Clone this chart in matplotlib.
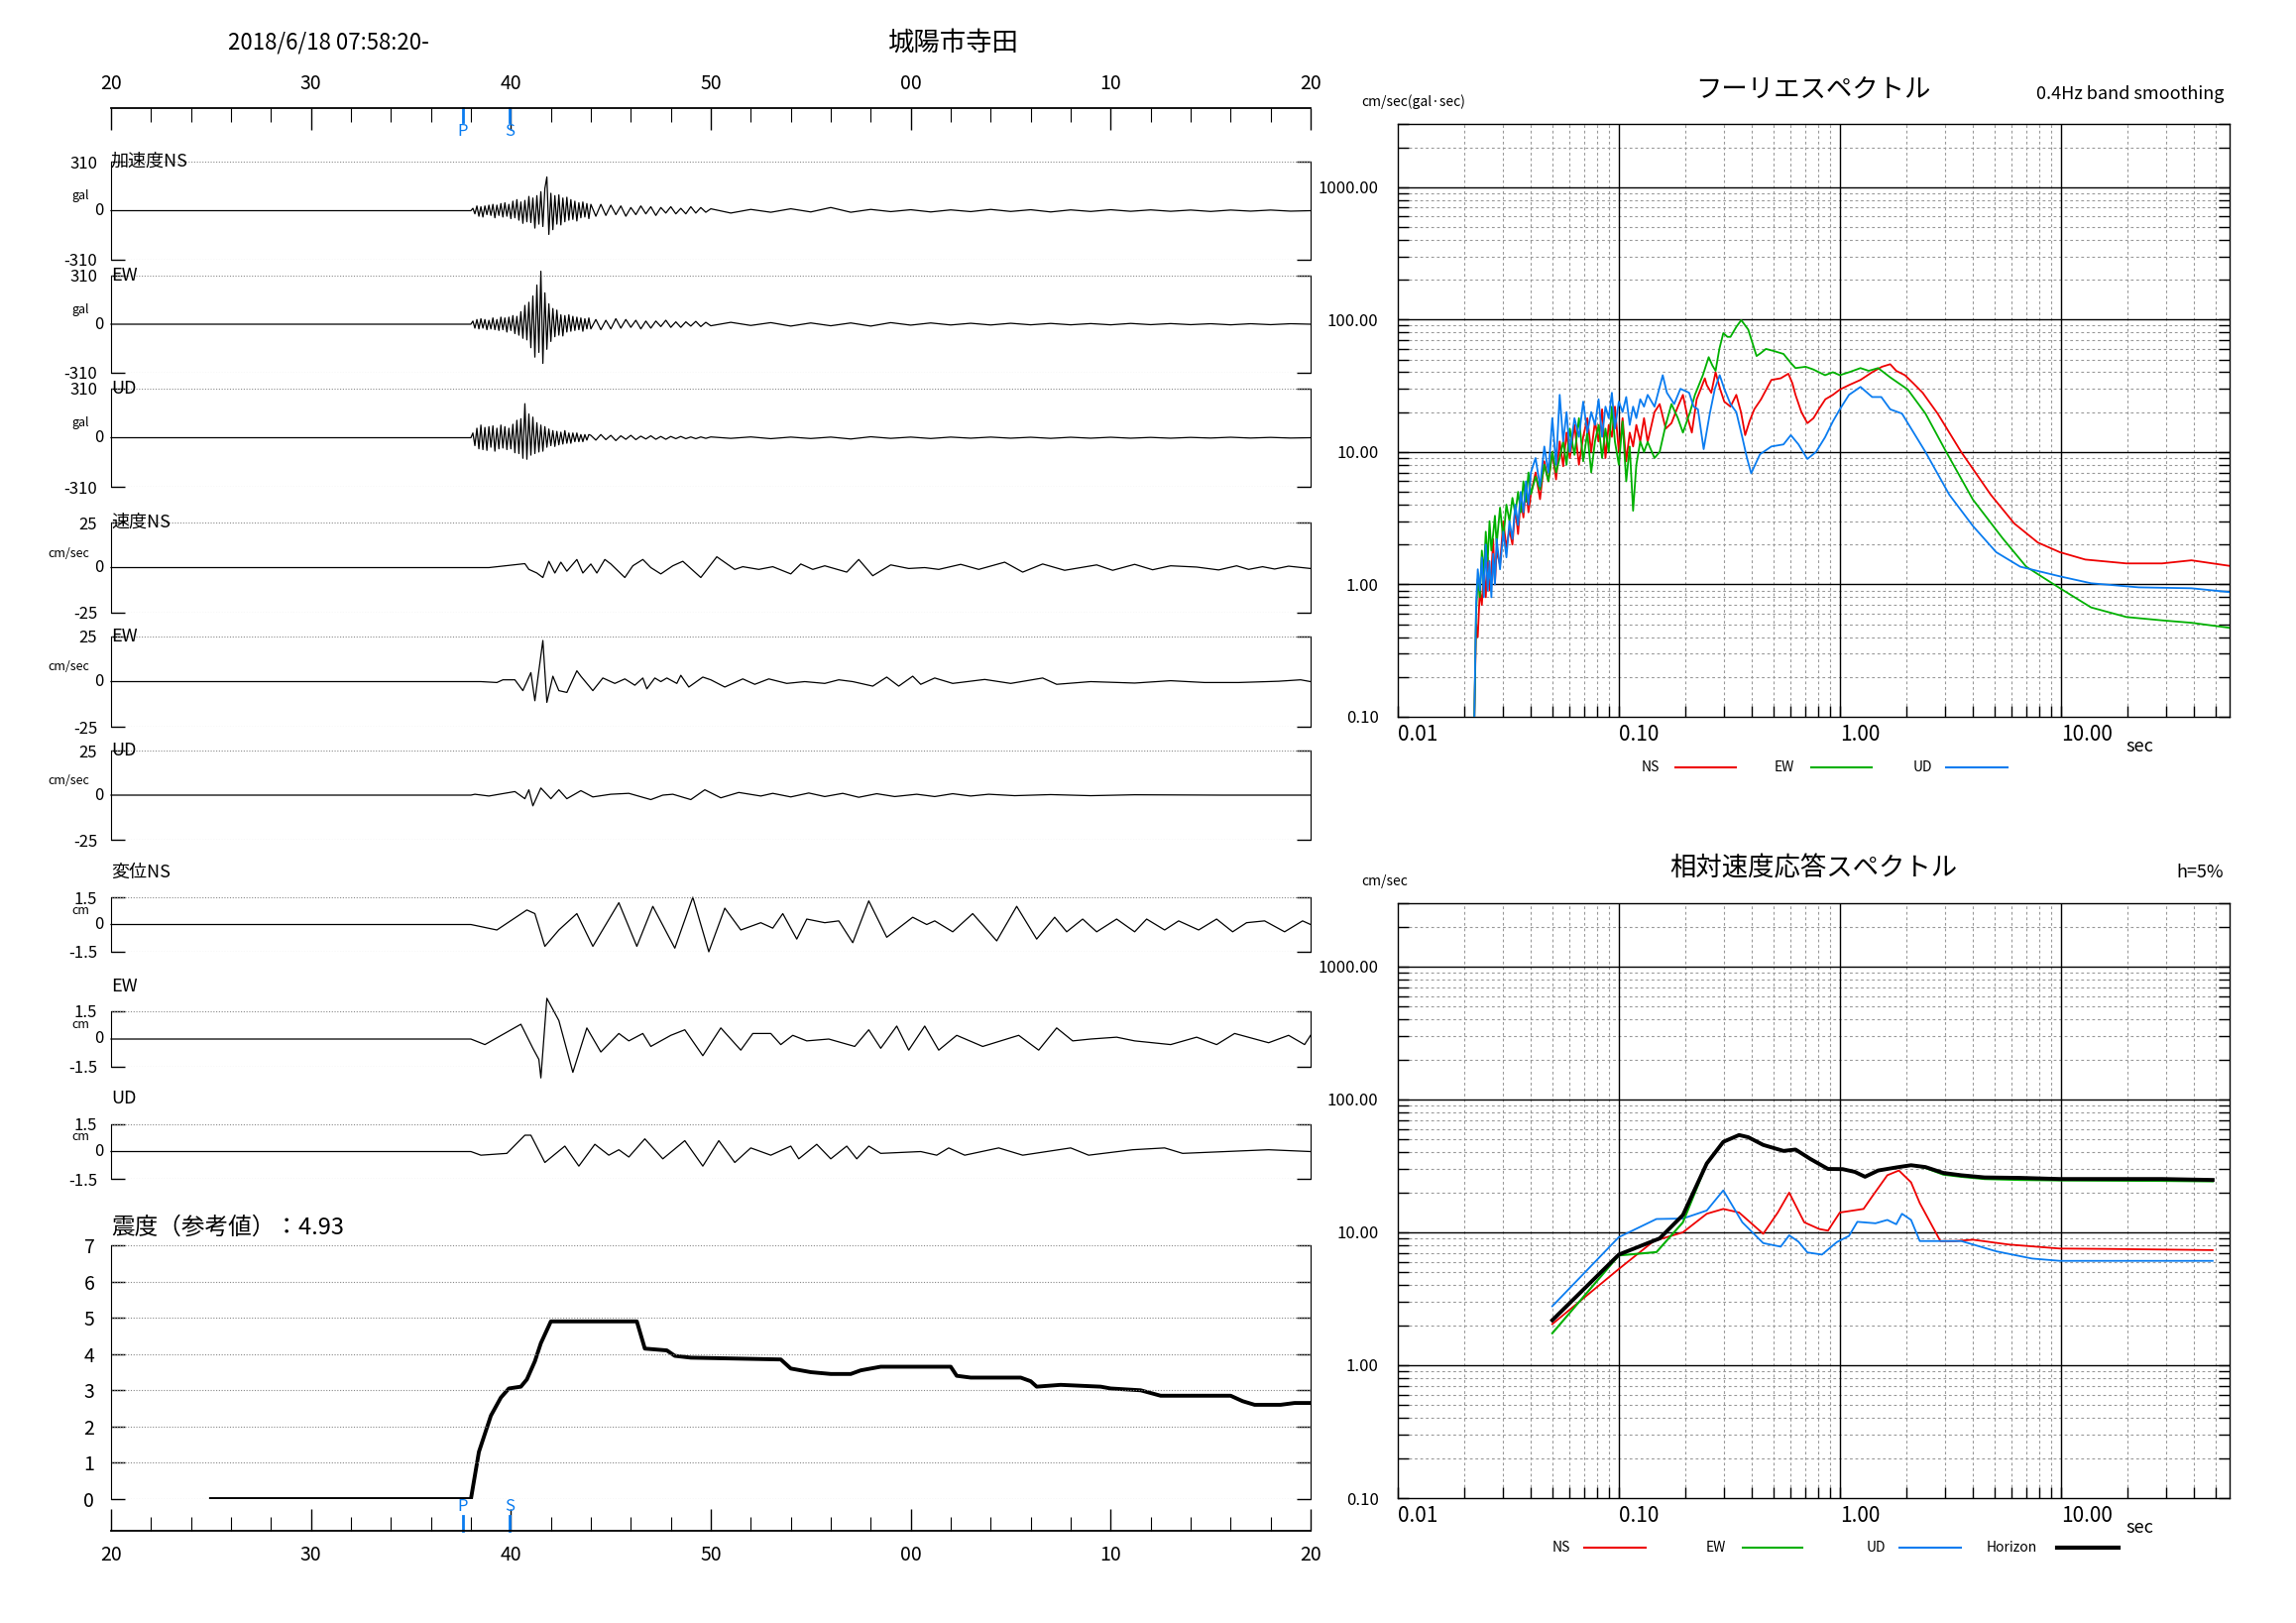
import numpy as np
import matplotlib
matplotlib.use("Agg")
import matplotlib.pyplot as plt
from matplotlib.lines import Line2D
from matplotlib.ticker import LogLocator, NullFormatter, FixedLocator

plt.rcParams['font.family'] = ['Noto Sans CJK JP', 'DejaVu Sans']

# ---------------- data ----------------
time_ticks = [20, 30, 40, 50, 60, 70, 80]
time_labels = ["20", "30", "40", "50", "00", "10", "20"]
p_time, s_time = 37.6, 39.95

acc_ns_early = [0, 15, -20, 30, -35, 25, -40, 30, -25, 35,
                -30, 40, -45, 35, -30, 45, -40, 50, -35, 40,
                -50, 60, -45, 70, -60, 55, -80, 65, -70, 90,
                -75, 80, -110, 95, -85, 120, -100, 140, 213, -150,
                110, -120, 95, -85, 100, -90, 80, -70, 85, -60,
                70, -55, 60, -65, 50, -45, 55, -40, 45, -50, 40]
acc_ns_mid = [-35, 40, -30, 35, -25, 30, -35, 20, -25, 30, -20, 25, -30, 20, -15, 25, -20, 15, -20, 25, -15, 20, -10]
acc_ns_late = [12, -15, 8, -10, 12, -8, 20, -10, 8, -6, 6, -8, 5, -6, 8, -5, 6, -8, 5, -5,
               6, -4, 5, -4, 4, -5, 4, -3, 4, -3, 0]
acc_ew_early = [0, 20, -25, 30, -30, 35, -25, 30, -35, 25,
                -30, 40, -35, 30, -40, 45, -35, 40, -50, 45,
                -40, 55, -60, 50, -70, 80, -90, 120, -100, 140,
                -150, 180, -210, 250, -180, 338, -250, 200, -160, 130,
                -110, 100, -80, 90, -70, 60, -75, 55, -50, 60,
                -45, 50, -40, 45, -35, 40, -45, 35, -30, 40, -30]
acc_ew_mid = [30, -35, 25, -30, 35, -25, 30, -20, 25, -30, 20, -25, 20, -15, 25, -20, 15, -20, 15, -12, 18, -15, 12]
acc_ew_late = [-10, 12, -8, 10, -12, 8, -10, 8, -12, 10, -6, 8, -5, 6, -5, 6, -4, 5, -4, 4,
               -4, 5, -3, 4, -3, 3, -4, 3, -3, 3, 0]
acc_ud_early = [0, 30, -50, 60, -70, 80, -75, 65, -80, 70,
                -60, 75, -85, 60, -70, 80, -65, 70, -75, 60,
                -70, 85, -95, 110, -100, 120, -130, 215, -136, 150,
                -110, 130, -100, 95, -90, 80, -85, 70, -60, 55,
                -50, 45, -55, 40, -45, 35, -40, 45, -35, 30,
                -35, 30, -25, 30, -25, 20, -25, 20, -15, 20, 15]
acc_ud_mid = [-15, 20, -12, 15, -18, 12, -10, 15, -12, 10, -8, 12, -10, 8, -10, 8, -6, 8, -6, 5, -6, 5, -4]
acc_ud_late = [5, -4, 5, -6, 4, -5, 4, -8, 6, -4, 4, -5, 4, -3, 4, -3, 3, -4, 3, -3,
               3, -3, 2, -3, 2, -2, 3, -2, 2, -2, 0]

vel_ns_t = [20, 38.9, 40.7, 40.9, 41.3, 41.6, 41.9, 42.2, 42.5, 42.8, 43.3, 43.6, 44.0, 44.3, 44.7, 45.0, 45.7, 46.1, 46.6, 47.0,
            47.5, 48.1, 48.6, 49.5, 50.3, 51.2, 51.6, 52.4, 53.1, 54.0, 54.5, 55.1, 55.7, 56.8, 57.4, 58.1, 59.0, 59.9, 60.7, 61.4,
            62.5, 63.4, 64.7, 65.6, 66.6, 67.7, 69.3, 70.1, 71.2, 72.1, 73.0, 74.3, 75.4, 76.3, 76.9, 77.6, 78.2, 78.9, 80]
vel_ns_v = [0, 0, 2.2, -1, -3, -5.5, 3.5, -3, 3, -2, 4.5, -3, 2, -3, 4.5, 2, -5.5, 1, 4.5, 0,
            -3.5, 1, 3.5, -5.5, 6, -1, 0.5, -1, 0.5, -3.5, 2, -1, 1, -2.5, 4.5, -4.5, 1.5, -0.5, 0, -1,
            1.8, -1, 3, -2.5, 2, -1.5, 1.5, -1.5, 1.8, -1.2, 1, 0.3, -1.3, 1, -1, 0.5, -0.8, 0.8, -0.5]
vel_ew_t = [20, 38.5, 39.3, 39.6, 40.2, 40.6, 41.0, 41.2, 41.6, 41.8, 42.1, 42.4, 42.8, 43.3, 43.5, 44.1, 44.6, 45.2, 45.7, 46.2,
            46.6, 46.8, 47.2, 47.5, 47.8, 48.3, 48.5, 48.9, 49.6, 50.0, 50.7, 51.6, 52.2, 52.9, 53.8, 54.7, 55.7, 56.4, 57.1, 58.1,
            58.8, 59.4, 60.1, 60.5, 61.2, 62.1, 63.7, 65.0, 66.6, 67.3, 69.0, 71.2, 73.0, 74.7, 76.4, 78.4, 79.5, 80]
vel_ew_v = [0, 0, -0.5, 1, 1, -5, 5, -10.6, 22.8, -11.5, 3, -5, -6, 6, 3, -5, 2, -1, 1.5, -2,
            2, -4, 2, 0, 2, -1, 3.5, -3, 2.5, 1, -3, 1.5, -1.5, 1.5, -1, 0, -1, 1, 0, -2.5,
            2.5, -2.5, 3, -1.5, 2, -1, 1.2, -1, 2, -1.5, 0, -0.8, 0.5, -0.5, -0.5, 0.2, 1, 0]
vel_ud_t = [20, 38.0, 38.2, 38.9, 40.2, 40.7, 40.9, 41.1, 41.5, 42.0, 42.4, 42.8, 43.5, 44.1, 45.0, 45.9, 47.0, 47.6, 48.1, 49.0,
            49.7, 50.5, 51.4, 52.5, 53.1, 54.0, 54.9, 55.7, 56.6, 57.4, 58.3, 59.2, 60.3, 61.2, 62.1, 63.0, 63.9, 65.2, 67.0, 69.0,
            71.2, 75.6, 80]
vel_ud_v = [0, 0, 0.5, -0.5, 2, -2, 3, -6, 4, -2, 3, -2, 2.5, -1, 0.5, 1, -2.5, 0, 0.5, -2.5,
            3, -1.5, 1.5, -0.5, 1, -1, 1.2, -0.8, 1, -1.2, 0.8, -0.8, 0.5, -0.8, 0.8, -0.5, 0.5, -0.3, 0.3, -0.3,
            0.2, 0, 0]

disp_ns_t = [20, 38.0, 39.3, 40.8, 41.2, 41.7, 42.4, 43.3, 44.1, 45.4, 46.3, 47.1, 48.2, 49.1, 49.9, 50.7, 51.5, 52.5, 53.1, 53.6,
             54.3, 54.8, 55.7, 56.4, 57.1, 57.9, 58.8, 60.1, 60.8, 61.2, 62.1, 63.1, 64.3, 65.3, 66.3, 67.2, 67.8, 68.6, 69.3, 70.3,
             71.2, 71.8, 72.7, 73.4, 74.4, 75.3, 76.1, 76.8, 77.7, 78.7, 79.6, 80]
disp_ns_v = [0, 0, -0.3, 0.8, 0.6, -1.2, -0.3, 0.6, -1.2, 1.2, -1.2, 1.0, -1.3, 1.5, -1.5, 0.9, -0.3, 0.1, -0.2, 0.6,
             -0.8, 0.3, 0.1, 0.2, -1.0, 1.3, -0.7, 0.4, 0, 0.2, -0.4, 0.6, -0.9, 1.0, -0.8, 0.4, -0.4, 0.3, -0.4, 0.3,
             -0.4, 0.3, -0.3, 0.2, -0.3, 0.3, -0.4, 0.1, 0.2, -0.4, 0.2, 0]
disp_ew_t = [20, 38.0, 38.7, 40.5, 41.1, 41.4, 41.5, 41.8, 42.4, 43.1, 43.8, 44.5, 45.4, 45.9, 46.6, 47.0, 48.0, 48.7, 49.6, 50.5,
             51.5, 52.1, 53.0, 53.5, 54.1, 54.8, 55.9, 57.2, 57.9, 58.5, 59.3, 59.9, 60.7, 61.4, 62.3, 63.6, 65.4, 66.4, 67.3, 68.1,
             69.0, 70.3, 71.2, 73.0, 74.3, 75.3, 76.2, 77.9, 78.9, 79.7, 80]
disp_ew_v = [0, 0, -0.3, 0.8, -0.5, -1.1, -2.1, 2.2, 1.0, -1.8, 0.6, -0.7, 0.3, -0.1, 0.3, -0.4, 0.2, 0.5, -0.9, 0.6,
             -0.6, 0.3, 0.3, -0.3, 0.2, -0.1, 0, -0.4, 0.5, -0.5, 0.7, -0.6, 0.7, -0.6, 0.2, -0.4, 0.2, -0.6, 0.6, -0.1,
             0, 0.1, -0.1, -0.3, 0.1, -0.3, 0.3, -0.2, 0.2, -0.3, 0.2]
disp_ud_t = [20, 38.0, 38.5, 39.8, 40.7, 41.0, 41.7, 42.7, 43.4, 44.2, 44.9, 45.4, 45.9, 46.7, 47.6, 48.7, 49.6, 50.4, 51.2, 52.0,
             53.0, 54.0, 54.4, 55.3, 56.0, 56.8, 57.3, 57.9, 58.5, 60.5, 61.3, 61.9, 62.7, 64.4, 65.6, 68.0, 68.9, 71.1, 72.7, 73.6,
             77.9, 80]
disp_ud_v = [0, 0, -0.2, -0.1, 0.9, 0.9, -0.6, 0.3, -0.8, 0.4, -0.2, 0.1, -0.3, 0.7, -0.4, 0.6, -0.8, 0.6, -0.6, 0.2,
             -0.2, 0.3, -0.4, 0.4, -0.4, 0.3, -0.4, 0.3, -0.1, 0, -0.2, 0.2, -0.2, 0.2, -0.2, 0.2, -0.2, 0.1, 0.2, -0.1,
             0.1, 0]

int_t = [25, 38.0, 38.4, 39.0, 39.5, 39.9, 40.5, 40.8, 41.2, 41.5, 42.0, 46.3, 46.7, 47.8, 48.2, 49.0, 53.5, 54.0, 55.0, 56.0,
         57.0, 57.5, 58.5, 62.0, 62.3, 63.0, 65.5, 66.0, 66.3, 67.5, 69.5, 70.0, 71.5, 72.5, 76.0, 76.6, 77.2, 78.5, 79.2, 80]
int_v = [0, 0, 1.3, 2.3, 2.8, 3.05, 3.1, 3.3, 3.8, 4.3, 4.9, 4.9, 4.15, 4.1, 3.95, 3.9, 3.85, 3.6, 3.5, 3.45,
         3.45, 3.55, 3.65, 3.65, 3.4, 3.35, 3.35, 3.25, 3.1, 3.15, 3.1, 3.05, 3.0, 2.85, 2.85, 2.7, 2.6, 2.6, 2.65, 2.65]
intensity_value = "4.93"

# Fourier spectra
fs_noise_p = [0.0222, 0.0226, 0.023, 0.0235, 0.024, 0.0245, 0.025, 0.0255, 0.026, 0.0265, 0.027, 0.0275, 0.028, 0.029,
              0.030, 0.031, 0.032, 0.033, 0.034, 0.035, 0.036, 0.037, 0.038, 0.039, 0.040, 0.042, 0.044, 0.046, 0.048,
              0.050, 0.052, 0.054, 0.056, 0.058, 0.060, 0.063, 0.066, 0.069, 0.072, 0.075, 0.078, 0.081, 0.084, 0.087,
              0.090, 0.093, 0.096, 0.100, 0.104, 0.108, 0.112, 0.116, 0.120, 0.125, 0.130]
fs_ns_noise = [0.1, 0.5, 0.4, 0.9, 0.7, 1.3, 0.8, 1.6, 0.9, 1.2, 2.2, 1.0, 1.8, 1.4, 3.0, 1.9, 2.6, 2.0, 3.8, 2.4, 4.5, 3.2,
               5.5, 3.5, 4.8, 7.0, 4.4, 8.5, 6.0, 10, 6.2, 12, 7.8, 14, 9, 16, 8, 13, 18, 10, 17, 12, 21, 9, 16, 13, 22, 10,
               18, 8.5, 14, 11, 16, 12, 18]
fs_ew_noise = [0.1, 0.6, 1.1, 0.8, 1.8, 1.2, 2.5, 1.5, 3.0, 1.8, 2.4, 3.3, 2.0, 3.8, 2.2, 4.0, 3.0, 4.5, 3.4, 5.0, 3.5, 6.0,
               4.2, 7.0, 4.8, 6.5, 5.2, 8.0, 6.0, 10, 7.0, 9.0, 12, 8.0, 15, 9.5, 18, 8.5, 14, 7.0, 12, 16, 9.0, 15, 10, 22,
               12, 8, 17, 6, 11, 3.6, 8, 12, 10]
fs_ud_noise = [0.1, 0.7, 1.3, 0.9, 1.6, 0.8, 2.0, 0.9, 1.5, 0.8, 1.7, 1.0, 2.2, 1.3, 2.5, 1.6, 3.0, 2.2, 4.0, 2.8, 5.0, 3.5,
               6.0, 4.0, 7.0, 9.0, 5.5, 11, 7, 18, 8, 27, 12, 20, 10, 18, 13, 24, 14, 20, 16, 25, 13, 22, 18, 28, 15, 24,
               20, 26, 16, 22, 18, 25, 22]
fs_ns_p = [0.135, 0.145, 0.153, 0.163, 0.173, 0.185, 0.195, 0.205, 0.214, 0.225, 0.235, 0.245, 0.25, 0.262, 0.274, 0.287,
           0.30, 0.32, 0.34, 0.357, 0.373, 0.39, 0.41, 0.44, 0.49, 0.54, 0.585, 0.61, 0.63, 0.67, 0.713, 0.76, 0.806, 0.86,
           0.93, 1.0, 1.1, 1.24, 1.4, 1.55, 1.69, 1.8, 1.97, 2.15, 2.37, 2.77, 3.54, 4.82, 6.16, 7.87, 9.9, 12.9, 19.8,
           28.7, 39, 58]
fs_ns_v = [11.9, 20, 23, 15, 16.5, 22, 27, 18, 14, 25, 30, 36, 32, 28, 40, 30, 24, 22, 27, 20, 13.4, 17, 21, 25, 35, 36, 39,
           33, 27, 20, 16.5, 18, 21.2, 25, 27, 29.6, 32, 35, 40, 44, 46, 41, 38, 33, 28, 19.5, 10, 4.75, 2.88, 2.07, 1.75,
           1.54, 1.44, 1.44, 1.52, 1.38]
fs_ew_p = [0.135, 0.145, 0.153, 0.163, 0.173, 0.185, 0.195, 0.21, 0.221, 0.24, 0.255, 0.265, 0.274, 0.285, 0.297, 0.31,
           0.32, 0.34, 0.358, 0.385, 0.42, 0.44, 0.463, 0.5, 0.556, 0.6, 0.63, 0.7, 0.758, 0.857, 0.93, 1.0, 1.1, 1.24,
           1.35, 1.49, 1.69, 2.03, 2.44, 3.03, 4.0, 5.44, 6.97, 9.9, 13.7, 19.8, 28.7, 39, 58]
fs_ew_v = [11.9, 9, 10, 16, 23, 18, 14, 20, 27, 38, 52, 45, 41, 60, 79, 74, 74, 88, 99, 84, 53, 56, 60, 58, 55, 47, 43, 44,
           42, 38, 40, 38, 40, 43, 41, 43, 36.6, 29.6, 19.5, 10, 4.37, 2.24, 1.36, 0.936, 0.67, 0.567, 0.535, 0.513, 0.47]
fs_ud_p = [0.135, 0.145, 0.158, 0.165, 0.178, 0.19, 0.208, 0.218, 0.228, 0.242, 0.258, 0.272, 0.286, 0.30, 0.32, 0.34,
           0.362, 0.38, 0.397, 0.435, 0.49, 0.556, 0.6, 0.65, 0.713, 0.78, 0.857, 0.93, 1.0, 1.1, 1.24, 1.4, 1.54, 1.69,
           1.91, 2.44, 3.13, 4.0, 5.1, 6.55, 9.9, 13.7, 22.5, 39, 58]
fs_ud_v = [27, 22, 38, 28, 23, 30, 28, 22, 21, 10.5, 19.5, 30, 38, 30, 23, 20, 12.9, 9, 6.9, 9.6, 11, 11.4, 13.4, 11.4,
           8.85, 10, 12.9, 17, 21, 27, 31, 26, 26, 21, 19.5, 10, 4.75, 2.76, 1.75, 1.36, 1.15, 1.02, 0.95, 0.935, 0.875]

# velocity response spectra (h=5%)
rs_hz_p = [0.05, 0.1, 0.153, 0.195, 0.25, 0.297, 0.35, 0.385, 0.45, 0.556, 0.63, 0.735, 0.884, 1.03, 1.17, 1.3, 1.49, 1.8,
           2.1, 2.44, 2.94, 3.54, 4.52, 6.55, 9.9, 28.7, 48.6]
rs_hz_v = [2.18, 6.8, 9.0, 13.5, 33, 48, 54, 52, 45.5, 41, 42, 35.7, 30, 29.9, 28.5, 26.2, 29.2, 30.8, 32, 31, 28.0, 26.9,
           25.9, 25.7, 25.2, 25.2, 24.8]
rs_ew_p = [0.05, 0.1, 0.148, 0.195, 0.25, 0.297, 0.35, 0.385, 0.45, 0.556, 0.63, 0.735, 0.884, 1.03, 1.17, 1.3, 1.49, 1.8,
           2.1, 2.44, 2.94, 3.54, 4.52, 6.55, 9.9, 28.7, 48.6]
rs_ew_v = [1.74, 6.7, 7.1, 11.9, 33, 48, 54, 52, 45.5, 41, 42, 35.7, 30, 29.9, 28.5, 26.2, 29.2, 30.8, 32, 30.5, 27.2, 26.2,
           25.2, 24.8, 24.6, 24.4, 24.2]
rs_ns_p = [0.05, 0.1, 0.144, 0.195, 0.25, 0.297, 0.35, 0.45, 0.524, 0.59, 0.69, 0.806, 0.884, 1.0, 1.28, 1.4, 1.64, 1.85,
           2.1, 2.3, 2.85, 3.33, 4.0, 5.8, 9.9, 16.5, 48.6]
rs_ns_v = [2.04, 5.3, 8.6, 10, 13.8, 15, 14.1, 9.75, 14.1, 19.9, 11.9, 10.6, 10.3, 14.1, 15, 18.6, 26.9, 29.2, 23.8, 16.6,
           8.6, 8.6, 8.8, 8.1, 7.55, 7.5, 7.35]
rs_ud_p = [0.05, 0.1, 0.148, 0.195, 0.25, 0.297, 0.362, 0.45, 0.54, 0.59, 0.65, 0.713, 0.83, 0.97, 1.1, 1.2, 1.45, 1.64,
           1.8, 1.91, 2.1, 2.3, 3.54, 5.1, 7.4, 9.9, 48.6]
rs_ud_v = [2.78, 9.2, 12.6, 12.7, 14.6, 20.7, 11.9, 8.3, 7.8, 9.5, 8.5, 7.06, 6.8, 8.45, 9.4, 12, 11.7, 12.4, 11.5, 13.8,
           12.4, 8.6, 8.6, 7.2, 6.35, 6.1, 6.1]

# ---------------- figure ----------------
W, H = 2316, 1637
fig = plt.figure(figsize=(W / 100, H / 100), dpi=100)
fig.patch.set_facecolor('white')


def axf(x0, y0, x1, y1):
    return fig.add_axes([x0 / W, 1 - y1 / H, (x1 - x0) / W, (y1 - y0) / H])


def fx(x):
    return x / W


def fy(y):
    return 1 - y / H


BLUE = '#0a7cf0'
RED = '#ee0000'
GREEN = '#00b000'
LX0, LX1 = 112, 1322

fig.text(fx(230), fy(43), "2018/6/18 07:58:20-", fontsize=16, va='center', ha='left')
fig.text(fx(962), fy(43), "城陽市寺田", fontsize=19, va='center', ha='center')


def time_axis(y, top):
    a = axf(LX0, y if top else y - 30, LX1, y + 30 if top else y)
    a.set_xlim(20, 80)
    a.set_ylim(0, 1)
    a.set_yticks([])
    for s in ['left', 'right', 'top', 'bottom']:
        a.spines[s].set_visible(False)
    a.patch.set_alpha(0)
    side = 'top' if top else 'bottom'
    a.spines[side].set_visible(True)
    a.spines[side].set_linewidth(1.3)
    a.xaxis.set_ticks_position(side)
    a.xaxis.set_label_position(side)
    a.set_xticks(time_ticks)
    a.set_xticklabels(time_labels, fontsize=14)
    a.set_xticks(np.arange(20, 81, 2), minor=True)
    a.tick_params(axis='x', which='major', direction='in', length=16, width=1, pad=10)
    a.tick_params(axis='x', which='minor', direction='in', length=10, width=0.8)
    return a


ta = time_axis(109, True)
for tt, lab in [(p_time, 'P'), (s_time, 'S')]:
    ta.plot([tt, tt], [1, 0.55], color=BLUE, lw=2, transform=ta.get_xaxis_transform(), clip_on=False)
    ta.text(tt, 0.5, lab, color=BLUE, fontsize=12, ha='center', va='top',
            transform=ta.get_xaxis_transform(), clip_on=False)
ba = time_axis(1544, False)
for tt, lab in [(p_time, 'P'), (s_time, 'S')]:
    ba.plot([tt, tt], [0, 0.5], color=BLUE, lw=2, transform=ba.get_xaxis_transform(), clip_on=False)
    ba.text(tt, 0.55, lab, color=BLUE, fontsize=12, ha='center', va='bottom',
            transform=ba.get_xaxis_transform(), clip_on=False)


def trace_panel(box, t, v, ymax, toplab, botlab, unit, title, title_y=None):
    a = axf(LX0, box[0], LX1, box[1])
    a.plot(t, v, color='black', lw=0.9, clip_on=False)
    a.set_xlim(20, 80)
    a.set_ylim(-ymax, ymax)
    a.set_xticks([])
    for s in ['top', 'bottom']:
        a.spines[s].set_visible(False)
    for y in (ymax, -ymax):
        a.axhline(y, color='#888888', lw=0.8, ls=(0, (1, 1.5)))
    a.set_yticks([ymax, -ymax])
    a.set_yticklabels([toplab, botlab], fontsize=12)
    a.tick_params(axis='y', left=True, right=True, direction='in', length=10, width=1, pad=10)
    a.text(-0.006, 0.5, "0", transform=a.transAxes, ha='right', va='center', fontsize=12)
    fig.text(fx(LX0 - 22), fy((box[0] + box[1]) / 2 - 8), unit, ha='right', va='bottom', fontsize=9)
    ty = box[0] if title_y is None else title_y
    fig.text(fx(LX0), fy(ty), title, ha='left', va='center', fontsize=13)
    return a


def acc_series(early, mid, late):
    t = np.concatenate([[20], np.linspace(38, 44, len(early)), np.linspace(44.25, 49.75, len(mid)),
                        np.linspace(50, 80, len(late))])
    v = np.concatenate([[0], early, mid, late])
    return t, v


t, v = acc_series(acc_ns_early, acc_ns_mid, acc_ns_late)
trace_panel((163, 262), t, v, 310, "310", "-310", "gal", "加速度NS")
t, v = acc_series(acc_ew_early, acc_ew_mid, acc_ew_late)
trace_panel((278, 376), t, v, 310, "310", "-310", "gal", "EW")
t, v = acc_series(acc_ud_early, acc_ud_mid, acc_ud_late)
trace_panel((392, 491), t, v, 310, "310", "-310", "gal", "UD")

trace_panel((527, 618), vel_ns_t, vel_ns_v, 25, "25", "-25", "cm/sec", "速度NS")
trace_panel((642, 733), vel_ew_t, vel_ew_v, 25, "25", "-25", "cm/sec", "EW")
trace_panel((757, 847), vel_ud_t, vel_ud_v, 25, "25", "-25", "cm/sec", "UD")

trace_panel((905, 960), disp_ns_t, disp_ns_v, 1.5, "1.5", "-1.5", "cm", "変位NS", 880)
trace_panel((1020, 1076), disp_ew_t, disp_ew_v, 1.5, "1.5", "-1.5", "cm", "EW", 995)
trace_panel((1134, 1189), disp_ud_t, disp_ud_v, 1.5, "1.5", "-1.5", "cm", "UD", 1108)

# intensity
ia = axf(LX0, 1256, LX1, 1512)
ia.plot(int_t, int_v, color='black', lw=2.8)
ia.set_xlim(20, 80)
ia.set_ylim(0, 7)
ia.set_xticks([])
for s in ['top', 'bottom']:
    ia.spines[s].set_visible(False)
ia.set_yticks(range(8))
ia.set_yticklabels([str(i) for i in range(8)], fontsize=14)
ia.tick_params(axis='y', left=True, right=True, direction='in', length=10, width=1, pad=12)
for i in range(8):
    ia.axhline(i, color='#888888', lw=0.8, ls=(0, (1, 1.5)))
fig.text(fx(LX0), fy(1238), "震度（参考値）：" + intensity_value, fontsize=17, ha='left', va='center')

# ---------------- spectra ----------------
SX0, SX1 = 1410, 2249


def spec_axes(y0, y1, title, title_y, right_note, unit):
    a = axf(SX0, y0, SX1, y1)
    a.set_xscale('log')
    a.set_yscale('log')
    a.set_xlim(0.01, 58)
    a.set_ylim(0.1, 3000)
    for d in [0.1, 1, 10]:
        a.axvline(d, color='black', lw=1.0, zorder=1)
    for d in [1, 10, 100, 1000]:
        a.axhline(d, color='black', lw=1.0, zorder=1)
    for dec in [0.01, 0.1, 1, 10]:
        for k in range(2, 10):
            if dec * k < 58:
                a.axvline(dec * k, color='#999999', lw=0.8, ls=(0, (2.5, 2.5)), zorder=0)
    for dec in [0.1, 1, 10, 100, 1000]:
        for k in range(2, 10):
            if dec * k < 3000:
                a.axhline(dec * k, color='#999999', lw=0.8, ls=(0, (2.5, 2.5)), zorder=0)
    a.yaxis.set_major_locator(FixedLocator([0.1, 1, 10, 100, 1000]))
    a.yaxis.set_minor_locator(LogLocator(base=10, subs=range(2, 10)))
    a.yaxis.set_minor_formatter(NullFormatter())
    a.set_yticklabels(["0.10", "1.00", "10.00", "100.00", "1000.00"], fontsize=12)
    a.tick_params(axis='y', which='both', left=True, right=True, direction='in', length=8, width=1, pad=14)
    a.xaxis.set_major_locator(FixedLocator([0.01, 0.1, 1, 10]))
    a.xaxis.set_minor_locator(LogLocator(base=10, subs=range(2, 10)))
    a.xaxis.set_minor_formatter(NullFormatter())
    a.set_xticklabels([])
    a.tick_params(axis='x', which='both', bottom=True, top=False, direction='in', length=8, width=1)
    for s in a.spines.values():
        s.set_linewidth(1.0)
    for d, lab in [(0.01, "0.01"), (0.1, "0.10"), (1, "1.00"), (10, "10.00")]:
        a.text(d, -0.012, lab, transform=a.get_xaxis_transform(), ha='left', va='top', fontsize=15)
    a.text(0.875, -0.035, "sec", transform=a.transAxes, ha='left', va='top', fontsize=13)
    fig.text(fx(1829), fy(title_y), title, fontsize=19, ha='center', va='center')
    fig.text(fx(2243), fy(title_y + 4), right_note, fontsize=13, ha='right', va='center')
    fig.text(fx(1373), fy(y0 - 22), unit, fontsize=10, ha='left', va='center')
    return a


fa = spec_axes(125, 723, "フーリエスペクトル", 91, "0.4Hz band smoothing", "cm/sec(gal·sec)")
ns_p = [0.0215] + fs_noise_p + fs_ns_p
ew_p = [0.0225] + fs_noise_p + fs_ew_p
ud_p = [0.0222] + fs_noise_p + fs_ud_p
fa.plot(ns_p, [0.05] + fs_ns_noise + fs_ns_v, color=RED, lw=1.3, zorder=3)
fa.plot(ew_p, [0.05] + fs_ew_noise + fs_ew_v, color=GREEN, lw=1.3, zorder=3)
fa.plot(ud_p, [0.05] + fs_ud_noise + fs_ud_v, color=BLUE, lw=1.3, zorder=4)

ra = spec_axes(911, 1511, "相対速度応答スペクトル", 876, "h=5%", "cm/sec")
ra.plot(rs_ns_p, rs_ns_v, color=RED, lw=1.3, zorder=3)
ra.plot(rs_ud_p, rs_ud_v, color=BLUE, lw=1.3, zorder=3)
ra.plot(rs_ew_p, rs_ew_v, color=GREEN, lw=1.5, zorder=3)
ra.plot(rs_hz_p, rs_hz_v, color='black', lw=2.8, zorder=4)


def legend_item(xt, x0, x1, y, label, color, lw=1.5):
    fig.text(fx(xt), fy(y), label, fontsize=10, ha='left', va='center')
    fig.add_artist(Line2D([fx(x0), fx(x1)], [fy(y), fy(y)], color=color, lw=lw, transform=fig.transFigure))


legend_item(1656, 1690, 1751, 774, "NS", RED)
legend_item(1790, 1827, 1888, 774, "EW", GREEN)
legend_item(1930, 1963, 2025, 774, "UD", BLUE)
legend_item(1566, 1598, 1660, 1561, "NS", RED)
legend_item(1721, 1758, 1818, 1561, "EW", GREEN)
legend_item(1883, 1916, 1978, 1561, "UD", BLUE)
legend_item(2004, 2075, 2137, 1561, "Horizon", 'black', lw=3)

fig.savefig("out.png", dpi=100, facecolor='white')
